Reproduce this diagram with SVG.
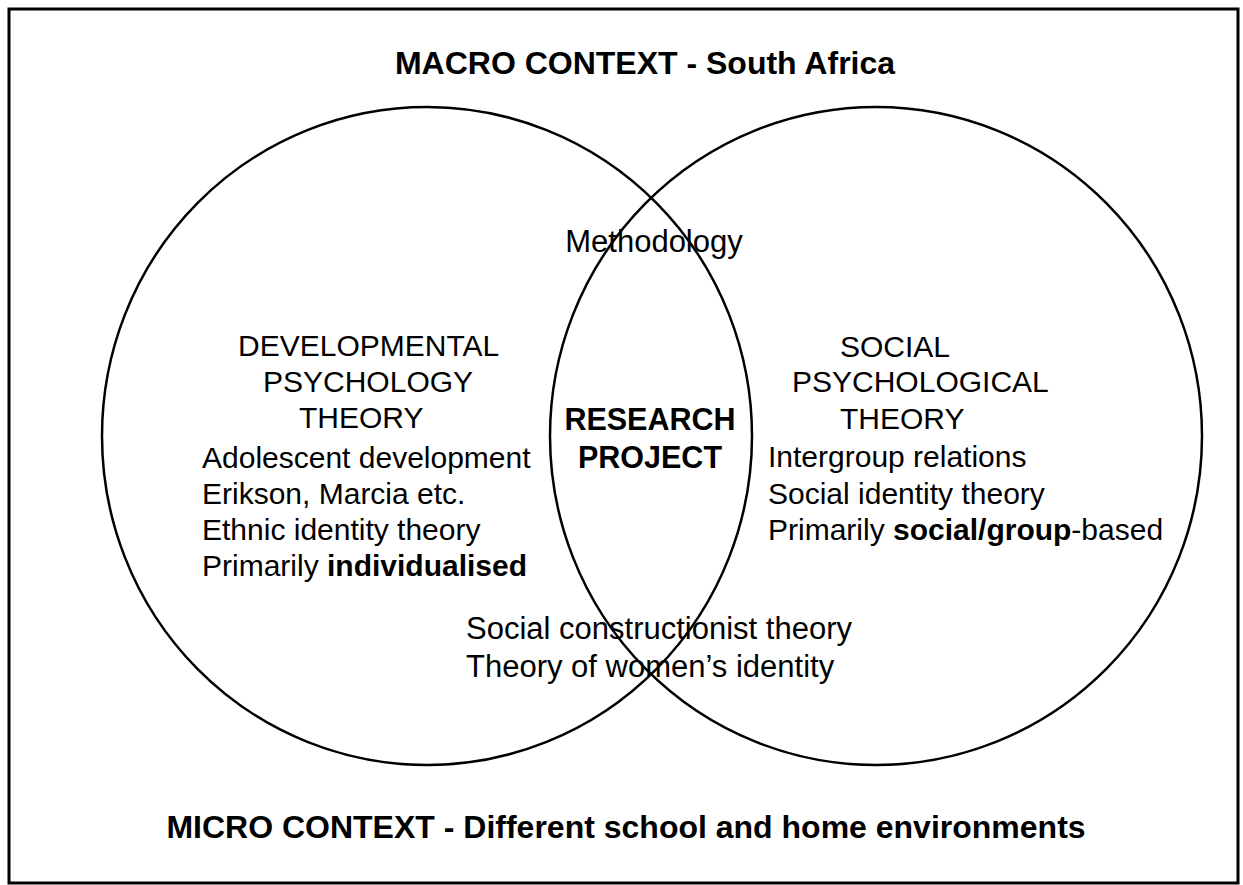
<svg xmlns="http://www.w3.org/2000/svg" width="1243" height="885" viewBox="0 0 1243 885">
<style>
.t{font-family:"Liberation Sans",Arial,sans-serif;font-size:30px;fill:#000}
.b{font-weight:bold}
.ttl{font-family:"Liberation Sans",Arial,sans-serif;font-size:32px;font-weight:bold;fill:#000}
.c{fill:none;stroke:#000;stroke-width:2.5}
</style>
<rect x="0" y="0" width="1243" height="885" fill="#fff"/>
<rect x="9" y="9" width="1229" height="874" fill="none" stroke="#000" stroke-width="3"/>
<g id="macro"><text class="ttl" x="645" y="74" text-anchor="middle">MACRO CONTEXT - South Africa</text></g>
<g id="left-circle">
<ellipse class="c" cx="427" cy="436" rx="325" ry="329"/>
<text class="t" x="238" y="356">DEVELOPMENTAL</text>
<text class="t" x="263" y="392">PSYCHOLOGY</text>
<text class="t" x="299" y="428">THEORY</text>
<text class="t" x="202" y="468">Adolescent development</text>
<text class="t" x="202" y="504">Erikson, Marcia etc.</text>
<text class="t" x="202" y="540">Ethnic identity theory</text>
<text class="t" x="202" y="576">Primarily <tspan class="b">individualised</tspan></text>
</g>
<g id="right-circle">
<ellipse class="c" cx="876" cy="436" rx="326" ry="329"/>
<text class="t" x="840" y="357">SOCIAL</text>
<text class="t" x="792" y="392">PSYCHOLOGICAL</text>
<text class="t" x="840" y="429">THEORY</text>
<text class="t" x="768" y="467">Intergroup relations</text>
<text class="t" x="768" y="504">Social identity theory</text>
<text class="t" x="768" y="540">Primarily <tspan class="b">social/group</tspan>-based</text>
</g>
<g id="overlap">
<text class="t" x="654" y="252" text-anchor="middle" style="font-size:31px">Methodology</text>
<text class="t b" x="650" y="430" text-anchor="middle" style="font-size:30.5px">RESEARCH</text>
<text class="t b" x="650" y="468" text-anchor="middle" style="font-size:30.5px">PROJECT</text>
<text class="t" x="466" y="639" style="font-size:31px">Social constructionist theory</text>
<text class="t" x="466" y="677" style="font-size:31px">Theory of women’s identity</text>
</g>
<g id="connectors"></g>
<g id="micro"><text class="ttl" x="626" y="838" text-anchor="middle">MICRO CONTEXT - Different school and home environments</text></g>
</svg>
